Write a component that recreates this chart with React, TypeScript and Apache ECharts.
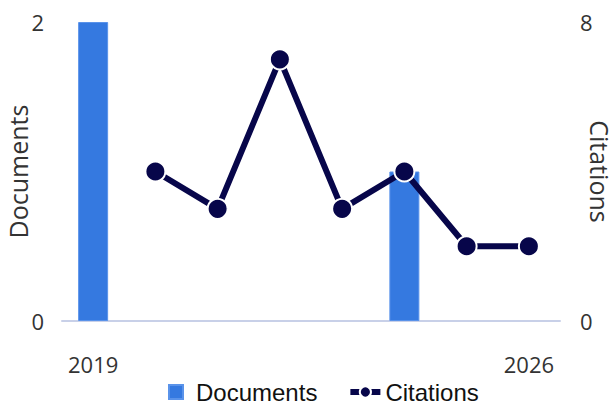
import React, { useEffect, useRef } from "react";
import * as echarts from "echarts";

const years = ["2019", "2020", "2021", "2022", "2023", "2024", "2025", "2026"];
const documents = [2, null, null, null, null, 1, null, null];
const citations = [null, 4, 3, 7, 3, 4, 2, 2];

export default function App() {
  const ref = useRef<HTMLDivElement>(null);
  useEffect(() => {
    document.body.style.margin = "0";
    if (!ref.current) return;
    const chart = echarts.init(ref.current, null, { renderer: "svg" });
    const axisFont = { fontFamily: "Open Sans", fontSize: 22, color: "#333" };
    const nameFont = { fontFamily: "Open Sans", fontSize: 25, color: "#333", lineHeight: 26 };
    chart.setOption({
      animation: false,
      grid: { left: 62, right: 56, top: 22, bottom: 90, containLabel: false, outerBoundsMode: "none" },
      legend: {
        bottom: 2,
        left: 163,
        itemGap: 30,
        itemWidth: 30,
        itemHeight: 14,
        itemTextGap: 8,
        symbolKeepAspect: true,
        textStyle: { fontFamily: "Liberation Sans", fontSize: 24, color: "#111" },
        data: [
          { name: "Documents", icon: "path://M0,0 L14,0 L14,14 L0,14 Z", itemStyle: { color: "#3579e0" } },
          { name: "Citations", lineStyle: { width: 6, color: "#07064a" } },
        ],
      },
      xAxis: {
        type: "category",
        data: years,
        boundaryGap: true,
        axisLine: { lineStyle: { color: "#c8d0e8", width: 2 } },
        axisTick: { show: false },
        axisLabel: {
          ...axisFont,
          margin: 32,
          interval: 0,
          formatter: (v: string, i: number) => (i === 0 || i === years.length - 1 ? v : ""),
        },
      },
      yAxis: [
        {
          type: "value",
          min: 0,
          max: 2,
          interval: 2,
          name: "Documents",
          nameLocation: "middle",
          nameGap: 31,
          nameMoveOverlap: false,
          nameTextStyle: nameFont,
          splitLine: { show: false },
          axisLine: { show: false },
          axisTick: { show: false },
          axisLabel: { ...axisFont, margin: 18 },
        },
        {
          type: "value",
          min: 0,
          max: 8,
          interval: 8,
          name: "Citations",
          nameLocation: "middle",
          nameGap: 27,
          nameMoveOverlap: false,
          nameRotate: -90,
          nameTextStyle: nameFont,
          splitLine: { show: false },
          axisLine: { show: false },
          axisTick: { show: false },
          axisLabel: { ...axisFont, margin: 20 },
        },
      ],
      series: [
        {
          name: "Documents",
          type: "bar",
          data: documents,
          barWidth: 30,
          yAxisIndex: 0,
          itemStyle: { color: "#3579e0", borderColor: "#5a93ea", borderWidth: 1 },
        },
        {
          name: "Citations",
          type: "line",
          data: citations,
          yAxisIndex: 1,
          symbol: "circle",
          symbolSize: 20,
          lineStyle: { color: "#07064a", width: 6 },
          itemStyle: { color: "#07064a", borderColor: "#fff", borderWidth: 2 },
        },
      ],
    });
    return () => chart.dispose();
  }, []);
  return <div ref={ref} style={{ width: 616, height: 411 }} />;
}
